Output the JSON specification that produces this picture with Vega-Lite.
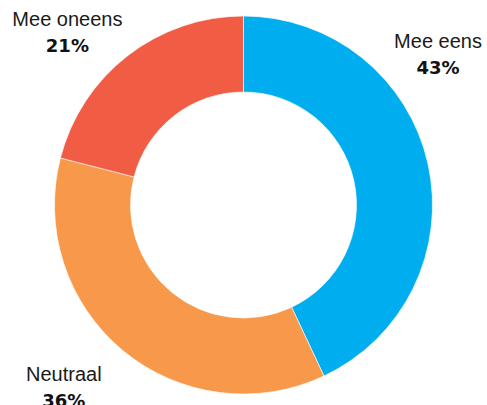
{
  "$schema": "https://vega.github.io/schema/vega-lite/v6.json",
  "width": 487,
  "height": 405,
  "autosize": {"type": "fit", "contains": "padding"},
  "padding": {"left": 0, "right": 0, "top": 9, "bottom": 0},
  "background": "white",
  "view": {"stroke": null},
  "data": {
    "values": [
      {"answer": "Mee eens", "pct": 43, "rank": 1, "labelAngle": 53.5},
      {"answer": "Neutraal", "pct": 36, "rank": 2, "labelAngle": 223.5},
      {"answer": "Mee oneens", "pct": 21, "rank": 3, "labelAngle": 313.3}
    ]
  },
  "transform": [{"calculate": "datum.pct + '%'", "as": "pctText"}],
  "resolve": {"scale": {"theta": "independent"}},
  "layer": [
    {
      "mark": {"type": "arc", "outerRadius": 189, "innerRadius": 113, "stroke": "white", "strokeWidth": 0.6},
      "encoding": {
        "theta": {"field": "pct", "type": "quantitative", "stack": true},
        "order": {"field": "rank", "type": "quantitative"},
        "color": {
          "field": "answer",
          "type": "nominal",
          "scale": {"domain": ["Mee eens", "Neutraal", "Mee oneens"], "range": ["#00AEEF", "#F7984B", "#F15C44"]},
          "legend": null
        }
      }
    },
    {
      "mark": {"type": "text", "font": "Liberation Sans", "fontSize": 20, "color": "#1a1a1a", "align": "center", "baseline": "alphabetic", "dy": -13, "radius": {"expr": "datum.answer === 'Neutraal' ? 261 : 242"}},
      "encoding": {
        "theta": {"field": "labelAngle", "type": "quantitative", "stack": null, "scale": {"domain": [0, 360], "range": [0, 6.283185307]}},
        "text": {"field": "answer", "type": "nominal"}
      }
    },
    {
      "mark": {"type": "text", "font": "DejaVu Sans", "fontSize": 18, "fontWeight": "bold", "color": "#111111", "align": "center", "baseline": "alphabetic", "dy": 13, "radius": {"expr": "datum.answer === 'Neutraal' ? 261 : 242"}},
      "encoding": {
        "theta": {"field": "labelAngle", "type": "quantitative", "stack": null, "scale": {"domain": [0, 360], "range": [0, 6.283185307]}},
        "text": {"field": "pctText", "type": "nominal"}
      }
    }
  ]
}
